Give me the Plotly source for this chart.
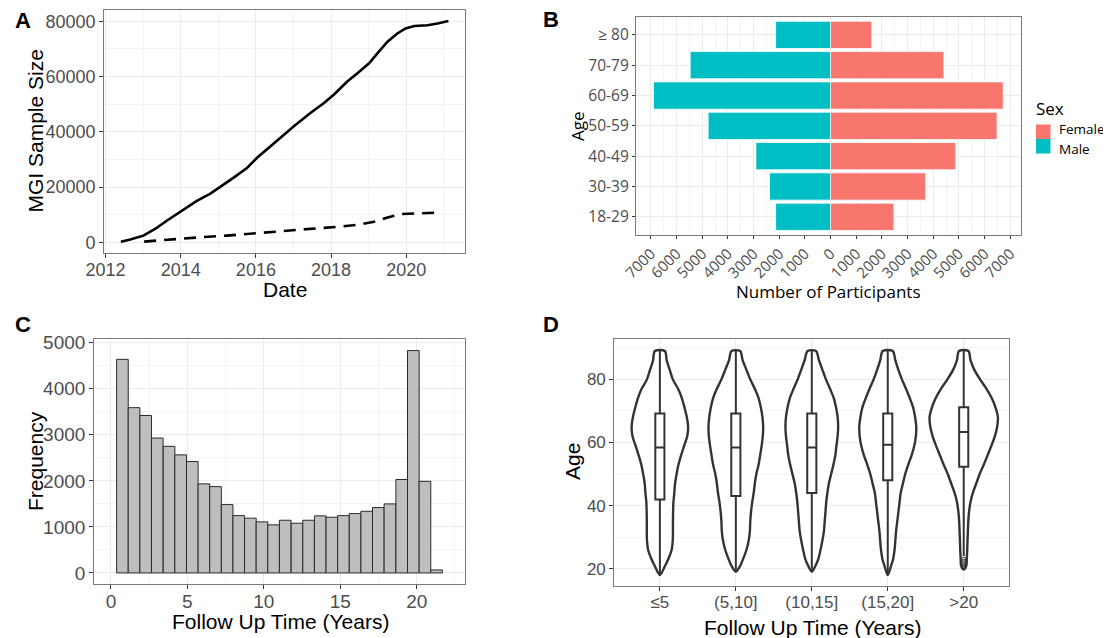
import plotly.graph_objects as go

# the page body keeps its default 8 px margin, so the figure is drawn 8 px in from the top-left
OFF = 8
W, H = 1111 - OFF, 638 - OFF

# ---------------- Panel A data ----------------
date_all = [2012.41, 2012.66, 2013.01, 2013.32, 2013.63, 2013.99, 2014.43, 2014.79, 2015.05,
            2015.41, 2015.77, 2016.03, 2016.39, 2016.74, 2017.01, 2017.45, 2017.81, 2018.07,
            2018.43, 2018.70, 2019.01, 2019.23, 2019.50, 2019.76, 2019.98, 2020.21, 2020.56,
            2020.83, 2021.12]
size_all = [200, 960, 2400, 4800, 7800, 11150, 15000, 17600, 20000, 23400, 27000, 30600,
            34800, 39000, 42000, 46800, 50400, 53400, 58200, 61200, 64800, 68400, 72600,
            75600, 77400, 78300, 78600, 79200, 80100]
date_sub = [2013.03, 2013.81, 2014.52, 2015.23, 2015.94, 2016.74, 2017.63, 2018.25, 2018.79,
            2019.14, 2019.50, 2019.85, 2020.38, 2020.93]
size_sub = [240, 1200, 1800, 2400, 3240, 4200, 5040, 5640, 6480, 7440, 9000, 10200, 10440, 10800]

# ---------------- Panel B data ----------------
age_groups = ["18-29", "30-39", "40-49", "50-59", "60-69", "70-79", "≥ 80"]
female_counts = [2470, 3710, 4880, 6490, 6730, 4420, 1610]
male_counts = [2140, 2380, 2910, 4770, 6900, 5470, 2140]
b_tickvals = [-7000, -6000, -5000, -4000, -3000, -2000, -1000, 0, 1000, 2000, 3000, 4000, 5000, 6000, 7000]
b_ticktext = ["7000", "6000", "5000", "4000", "3000", "2000", "1000", "0", "1000", "2000",
              "3000", "4000", "5000", "6000", "7000"]
sex_labels = ["Female", "Male"]
sex_colors = ["#F8766D", "#00BFC4"]

# ---------------- Panel C data ----------------
bin_centers = [0.75, 1.51, 2.27, 3.03, 3.80, 4.56, 5.32, 6.08, 6.84, 7.60, 8.36, 9.12, 9.88,
               10.64, 11.40, 12.17, 12.93, 13.69, 14.45, 15.21, 15.97, 16.73, 17.49, 18.25,
               19.02, 19.78, 20.54, 21.30]
bin_width = 0.761
bin_counts = [4640, 3590, 3420, 2930, 2750, 2565, 2420, 1935, 1875, 1485, 1245, 1190, 1110,
              1045, 1145, 1080, 1145, 1240, 1210, 1245, 1290, 1340, 1420, 1500, 2030, 4830,
              1990, 65]

# ---------------- Panel D data ----------------
fu_groups = ["≤5", "(5,10]", "(10,15]", "(15,20]", ">20"]
violin_ages = [89, 86, 83, 80, 77, 74, 71, 68, 65, 62, 59, 56, 53, 50, 47, 44, 41, 38, 35, 32,
               29, 26, 23, 21]
violin_halfwidth = [
    [.066, .09, .13, .17, .24, .29, .325, .355, .372, .36, .32, .28, .245, .22, .20, .19,
     .178, .174, .172, .172, .17, .155, .11, .07],
    [.057, .09, .14, .19, .25, .30, .33, .35, .36, .355, .34, .32, .30, .27, .25, .235,
     .215, .20, .19, .185, .17, .14, .095, .06],
    [.055, .095, .14, .186, .24, .29, .32, .34, .347, .34, .325, .31, .285, .255, .225, .205,
     .19, .18, .17, .16, .14, .115, .085, .05],
    [.066, .10, .14, .186, .24, .29, .335, .36, .375, .37, .35, .315, .27, .23, .20, .17,
     .155, .14, .125, .11, .10, .09, .07, .045],
    [.062, .09, .14, .215, .30, .37, .42, .45, .44, .41, .365, .315, .265, .21, .165, .12,
     .088, .07, .06, .055, .05, .046, .04, .035],
]
violin_min_age = [18, 19, 19, 18, 19.8]
box_q1 = [41.9, 43.0, 44.0, 48.0, 52.3]
box_median = [58.4, 58.4, 58.4, 59.3, 63.3]
box_q3 = [69.2, 69.2, 69.2, 69.2, 71.2]
box_low = [18, 19, 19, 18, 24.0]
box_high = [89, 89, 89, 89, 89]
outlier_ages_gt20 = [20.2, 20.8, 21.5, 22.3, 23.0]

# ---------------- styling ----------------
ARIAL = "Liberation Sans, Arial, sans-serif"
OPEN = "Open Sans, sans-serif"
GRID = "#EBEBEB"
MINOR = "#F4F4F4"
BORDER = "#7A7A7A"
TICKC = "#4D4D4D"
INK = "#333333"


def fx(x):
    return (x - OFF) / W


def fy(y):
    return 1 - (y - OFF) / H


def px_x(a, b):
    return [fx(a), fx(b)]


def px_y(top, bottom):
    return [fy(bottom), fy(top)]


def axis_common(font, tsize):
    return dict(showline=True, mirror=True, linecolor=BORDER, linewidth=1.2,
                showgrid=True, gridcolor=GRID, gridwidth=1, zeroline=False,
                ticks="outside", ticklen=4, tickcolor=INK, tickwidth=1, automargin=False,
                tickfont=dict(family=font, size=tsize, color=TICKC))


def minor(vals):
    return dict(tickvals=vals, showgrid=True, gridcolor=MINOR, gridwidth=0.7, ticks="")


fig = go.Figure()

# Panel A
fig.add_trace(go.Scatter(x=date_all, y=size_all, mode="lines", xaxis="x", yaxis="y",
                         line=dict(color="black", width=2.6), showlegend=False))
fig.add_trace(go.Scatter(x=date_sub, y=size_sub, mode="lines", xaxis="x", yaxis="y",
                         line=dict(color="black", width=2.6, dash="12px,8px"), showlegend=False))

# Panel B
fig.add_trace(go.Bar(y=age_groups, x=female_counts, orientation="h", name="Female",
                     xaxis="x2", yaxis="y2", width=0.9, showlegend=False,
                     marker=dict(color=sex_colors[0], line=dict(color="white", width=0.8))))
fig.add_trace(go.Bar(y=age_groups, x=[-v for v in male_counts], orientation="h", name="Male",
                     xaxis="x2", yaxis="y2", width=0.9, showlegend=False,
                     marker=dict(color=sex_colors[1], line=dict(color="white", width=0.8))))

# Panel C
fig.add_trace(go.Bar(x=bin_centers, y=bin_counts, width=bin_width, xaxis="x3", yaxis="y3",
                     marker=dict(color="#BEBEBE", line=dict(color="#2A2A2A", width=1)),
                     showlegend=False))

# Panel D violins
for i, hw in enumerate(violin_halfwidth):
    xs = [i + h for h in hw] + [i] + [i - h for h in reversed(hw)] + [i + hw[0]]
    ys = list(violin_ages) + [violin_min_age[i]] + list(reversed(violin_ages)) + [violin_ages[0]]
    fig.add_trace(go.Scatter(x=xs, y=ys, mode="lines", fill="toself", fillcolor="white",
                             line=dict(color=INK, width=2.4, shape="spline", smoothing=0.8),
                             xaxis="x4", yaxis="y4", showlegend=False, hoverinfo="skip"))

# boxes on an overlaying y axis so they sit above the filled violins
fig.add_trace(go.Box(x=list(range(len(fu_groups))), q1=box_q1, median=box_median, q3=box_q3,
                     lowerfence=box_low, upperfence=box_high, width=0.12, whiskerwidth=0,
                     fillcolor="white", line=dict(color=INK, width=2), boxpoints=False,
                     xaxis="x4", yaxis="y5", showlegend=False))
fig.add_trace(go.Scatter(x=[4] * len(outlier_ages_gt20), y=outlier_ages_gt20, mode="markers",
                         marker=dict(symbol="circle-open", size=4, color=INK, line=dict(width=1)),
                         xaxis="x4", yaxis="y5", showlegend=False))

# ---------------- layout ----------------
XSTAND = -4
ax_a_x = axis_common(ARIAL, 18)
ax_a_x.update(domain=px_x(104.3, 465), anchor="y", range=[2011.97, 2021.56], ticklabelstandoff=XSTAND,
              tickvals=[2012, 2014, 2016, 2018, 2020], minor=minor([2013, 2015, 2017, 2019, 2021]))
ax_a_y = axis_common(ARIAL, 18)
ax_a_y.update(domain=px_y(10, 253.3), anchor="x", range=[-4000, 84100], tickformat="d",
              tickvals=[0, 20000, 40000, 60000, 80000], minor=minor([10000, 30000, 50000, 70000]))

ax_b_x = axis_common(OPEN, 15)
ax_b_x.update(domain=px_x(636, 1020.7), anchor="y2", range=[-7581, 7411],
              tickvals=b_tickvals, ticktext=b_ticktext, tickangle=-45, ticklen=3,
              minor=dict(dtick=500, tick0=500, showgrid=True, gridcolor=MINOR, gridwidth=0.7, ticks=""))
ax_b_y = axis_common(OPEN, 15.5)
ax_b_y.update(domain=px_y(16.7, 235), anchor="x2", type="category", ticklen=3,
              categoryorder="array", categoryarray=age_groups, range=[-0.6, 6.6])

ax_c_x = axis_common(ARIAL, 19)
ax_c_x.update(domain=px_x(94.3, 465), anchor="y3", range=[-1.09, 23.16], ticklabelstandoff=XSTAND,
              tickvals=[0, 5, 10, 15, 20], minor=minor([2.5, 7.5, 12.5, 17.5, 22.5]))
ax_c_y = axis_common(ARIAL, 19)
ax_c_y.update(domain=px_y(339.3, 584), anchor="x3", range=[-240, 5075],
              tickvals=[0, 1000, 2000, 3000, 4000, 5000], minor=minor([500, 1500, 2500, 3500, 4500]))

ax_d_x = axis_common(ARIAL, 17)
ax_d_x.update(domain=px_x(614.3, 1009.3), anchor="y4", range=[-0.6, 4.6], ticklabelstandoff=XSTAND,
              tickvals=list(range(len(fu_groups))), ticktext=fu_groups)
ax_d_y = axis_common(ARIAL, 17)
ax_d_y.update(domain=px_y(339.3, 586), anchor="x4", range=[14.5, 92.7],
              tickvals=[20, 40, 60, 80], minor=minor([30, 50, 70, 90]))
ax_d_y2 = dict(overlaying="y4", anchor="x4", range=[14.5, 92.7], visible=False,
               showgrid=False, zeroline=False, automargin=False)

annotations = []
letters = [("A", 13, 6), ("B", 541, 5), ("C", 13, 310), ("D", 541, 310)]
for t, x, y in letters:
    annotations.append(dict(text=f"<b>{t}</b>", x=fx(x), y=fy(y),
                            xref="paper", yref="paper", xanchor="left", yanchor="top",
                            showarrow=False, font=dict(family=ARIAL, size=22, color="black")))

# axis titles (text, x px, y px, angle, font family, size)
axis_titles = [
    ("MGI Sample Size", 35, 131.5, -90, ARIAL, 21),
    ("Date", 284.6, 289, 0, ARIAL, 21),
    ("Age", 577, 126, -90, OPEN, 17),
    ("Number of Participants", 828, 291, 0, OPEN, 17),
    ("Frequency", 35, 461, -90, ARIAL, 21),
    ("Follow Up Time (Years)", 280, 621, 0, ARIAL, 21),
    ("Age", 572, 462, -90, ARIAL, 21),
    ("Follow Up Time (Years)", 812, 627, 0, ARIAL, 21),
]
for text, x, y, ang, fam, sz in axis_titles:
    annotations.append(dict(text=text, x=fx(x), y=fy(y),
                            xref="paper", yref="paper", xanchor="center", yanchor="middle",
                            textangle=ang, showarrow=False,
                            font=dict(family=fam, size=sz, color="black")))

# legend for panel B (title, keys and labels)
annotations.append(dict(text="Sex", x=fx(1034), y=fy(108), xref="paper", yref="paper",
                        xanchor="left", yanchor="middle", showarrow=False,
                        font=dict(family=OPEN, size=17, color="black")))
shapes = []
key_top = [124.5, 139.0]
label_mid = [129.0, 148.5]
for lab, col, top, mid in zip(sex_labels, sex_colors, key_top, label_mid):
    shapes.append(dict(type="rect", xref="paper", yref="paper",
                       x0=fx(1036), x1=fx(1050.5), y0=fy(top + 14.5), y1=fy(top),
                       fillcolor=col, line=dict(width=0)))
    annotations.append(dict(text=lab, x=fx(1058), y=fy(mid), xref="paper", yref="paper",
                            xanchor="left", yanchor="middle", showarrow=False, borderpad=0,
                            font=dict(family=OPEN, size=13.5, color="black")))

fig.update_layout(
    width=W, height=H, margin=dict(l=0, r=0, t=0, b=0, autoexpand=False),
    paper_bgcolor="white", plot_bgcolor="white",
    barmode="overlay", boxmode="overlay",
    xaxis=ax_a_x, yaxis=ax_a_y, xaxis2=ax_b_x, yaxis2=ax_b_y,
    xaxis3=ax_c_x, yaxis3=ax_c_y, xaxis4=ax_d_x, yaxis4=ax_d_y, yaxis5=ax_d_y2,
    annotations=annotations, shapes=shapes,
    showlegend=False,
)

fig.write_html("out.html")
